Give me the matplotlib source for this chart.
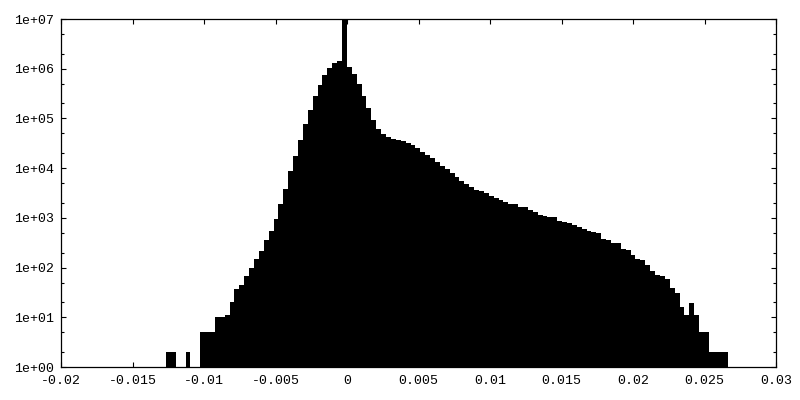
import numpy as np
import matplotlib
matplotlib.use('Agg')
import matplotlib.pyplot as plt
from matplotlib.ticker import FixedLocator, NullFormatter

# histogram counts
bin_start = -0.01266
bin_width = 0.000342
counts = [
    2, 2, 0, 0, 2, 0, 0,
    5, 5, 5, 10, 10, 11, 20, 37, 45, 68, 98, 149,
    216, 359, 553, 937, 1905, 3810, 8790, 17600, 36900, 77500,
    148000, 284000, 472000, 750000, 1040000, 1310000, 1440000, 9800000,
    1090000, 770000, 494000, 284000, 163000, 93300, 61500, 48800, 42400, 38700,
    36900, 35200, 32100, 29200, 25400, 21000, 18300, 15900, 13300, 11000,
    9600, 8000, 6640, 5500, 4800, 4190, 3650, 3400, 3100, 2760,
    2510, 2290, 2090, 1905, 1905, 1660, 1660, 1440, 1315, 1143,
    1090, 1042, 1042, 866, 827, 790, 720, 656, 598, 545,
    520, 497, 376, 359, 313, 313, 237, 226, 179, 149,
    142, 113, 85, 71, 68, 59, 39, 31, 16, 11,
    19, 11, 5, 5, 2, 2, 2, 2,
]

xticks = [-0.02, -0.015, -0.01, -0.005, 0, 0.005, 0.01, 0.015, 0.02, 0.025, 0.03]
xtick_labels = ['-0.02', '-0.015', '-0.01', '-0.005', '0', '0.005', '0.01',
                '0.015', '0.02', '0.025', '0.03']
yticks = [1e0, 1e1, 1e2, 1e3, 1e4, 1e5, 1e6, 1e7]
ytick_labels = ['1e+00', '1e+01', '1e+02', '1e+03', '1e+04', '1e+05', '1e+06', '1e+07']

plt.rcParams['font.family'] = ['Liberation Mono', 'DejaVu Sans Mono']

counts = np.array(counts, dtype=float)
edges = bin_start + bin_width * np.arange(len(counts) + 1)
# empty bins sit on the baseline (1e0 on the log axis)
heights = np.where(counts > 0, counts, 1)

fig = plt.figure(figsize=(8, 4), dpi=100)
ax = fig.add_axes([0.07625, 0.0825, 0.8938, 0.87])
ax.stairs(heights, edges, fill=True, baseline=1, color='black', linewidth=0)

ax.set_yscale('log')
ax.set_xlim(-0.02, 0.03)
ax.set_ylim(1, 1e7)

ax.set_xticks(xticks)
ax.set_xticklabels(xtick_labels)
ax.yaxis.set_major_locator(FixedLocator(yticks))
ax.set_yticklabels(ytick_labels)
minor = [m * 10 ** d for d in range(0, 7) for m in (2, 5)]
ax.yaxis.set_minor_locator(FixedLocator(minor))
ax.yaxis.set_minor_formatter(NullFormatter())

ax.tick_params(which='both', direction='in', top=True, right=True,
               labelsize=9.5, width=0.8, color='black')
ax.tick_params(which='major', length=3.5)
ax.tick_params(axis='x', which='major', pad=6)
ax.tick_params(axis='y', which='major', pad=5)
ax.tick_params(which='minor', length=2)
for s in ax.spines.values():
    s.set_linewidth(0.9)

fig.savefig('out.png', dpi=100)
